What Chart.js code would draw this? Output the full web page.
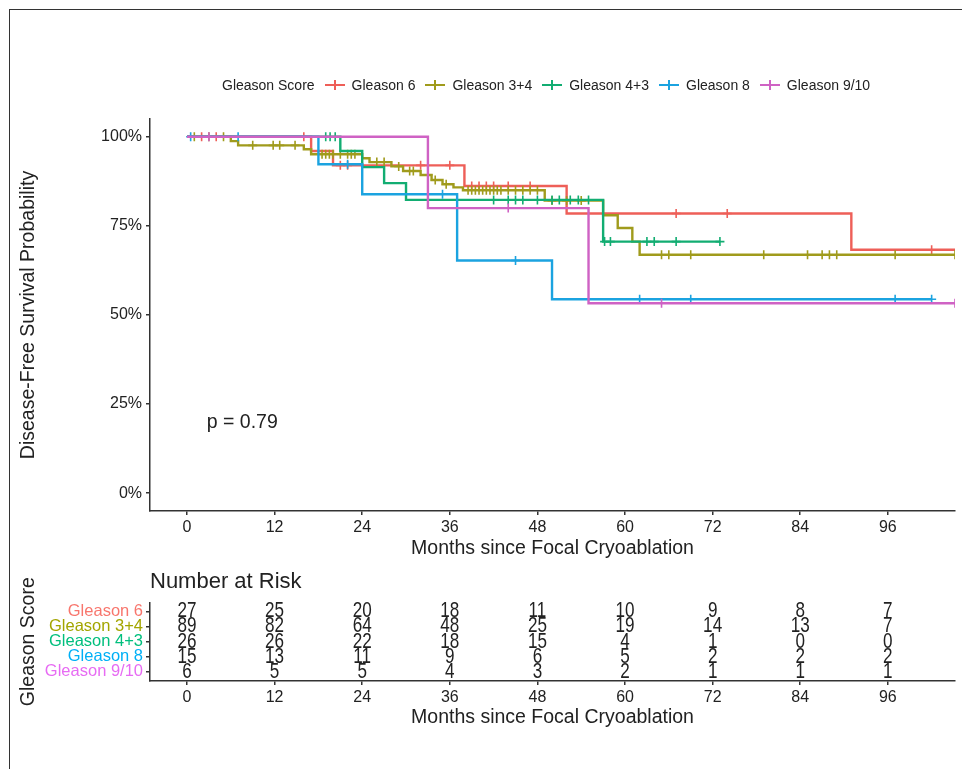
<!DOCTYPE html>
<html><head><meta charset="utf-8">
<script src="https://cdn.jsdelivr.net/npm/chart.js@4.4.1/dist/chart.umd.min.js"></script>
<style>
html,body{margin:0;padding:0;background:#fff;}
body{width:962px;height:769px;position:relative;overflow:hidden;font-family:"Liberation Sans",Arial,sans-serif;}
#frame{position:absolute;left:9px;top:9px;width:1000px;height:800px;border-left:1.5px solid #333;border-top:1.5px solid #333;}
#c1{position:absolute;left:0;top:0;}
#c2{position:absolute;left:0;top:565px;}
#legend{position:absolute;left:222px;top:75px;height:20px;display:flex;align-items:center;font-size:14px;color:#222;white-space:nowrap;}
.item{display:flex;align-items:center;margin-left:10px;}
.key{display:inline-block;position:relative;width:20px;height:12px;margin-right:7px;}
.key::before{content:"";position:absolute;left:0;right:0;top:5px;height:2px;background:var(--c);}
.key::after{content:"";position:absolute;left:9px;top:1px;width:2px;height:10px;background:var(--c);}
</style>
</head><body>
<div id="frame"></div>
<canvas id="c1" width="962" height="561"></canvas>
<canvas id="c2" width="962" height="170"></canvas>
<div id="legend"></div>
<script>
// ---------- data ----------
const groups = ['Gleason 6','Gleason 3+4','Gleason 4+3','Gleason 8','Gleason 9/10'];
const lineColors = ['#EE5F58','#A09B1C','#12AD72','#1BA3E0','#CF62C4'];
const labelColors = ['#F8766D','#A3A500','#00BF7D','#00B0F6','#E76BF3'];
const xTicks = [0,12,24,36,48,60,72,84,96];
const yTicks = [0,0.25,0.5,0.75,1];

// Kaplan-Meier steps: time of each step and survival after it
const g6Time  = [0,17,20,38,52,91,105.2];
const g6Surv  = [1,0.96,0.92,0.862,0.785,0.683,0.683];
const g6Cens  = [2,4,16,21,22,32,36,39,40,41,42,44,47,67,74,102];

const g34Time = [0,6,7,16,17,24,25,28,29.6,32,33.5,35,36.5,37.8,49,57,59,61,62,105.2];
const g34Surv = [1,0.988,0.976,0.965,0.951,0.94,0.929,0.917,0.904,0.893,0.879,0.867,0.858,0.85,0.821,0.78,0.744,0.706,0.669,0.669];
const g34Cens = [1,3,5,9,11.8,12.7,14.8,18.5,19,19.5,20,21,22,22.5,23,26,27,29,30.5,31,33,34,35.5,38.5,39,39.5,40,40.5,41,41.5,42,42.5,43,44,45,46,47,48,50,52,54,65,66,69,79,85,87,88,89,97,105.2];

const g43Time = [0,21,24,27,30,57,73];
const g43Surv = [1,0.96,0.915,0.87,0.823,0.706,0.706];
const g43Cens = [19,19.6,20.3,33,42,44,45,46,48,50,51,52.5,53.6,55,57.2,58,63,64,67,73];

const g8Time  = [0,18,24,37,50,102];
const g8Surv  = [1,0.923,0.839,0.653,0.544,0.544];
const g8Cens  = [0.5,7,22,35,45,62,69,97,102];

const g910Time = [0,33,55,105.2];
const g910Surv = [1,0.8,0.533,0.533];
const g910Cens = [3,44,65,105.2];

// number at risk
const riskTimes = [0,12,24,36,48,60,72,84,96];
const risk6   = [27,25,20,18,11,10,9,8,7];
const risk34  = [89,82,64,48,25,19,14,13,7];
const risk43  = [26,26,22,18,15,4,1,0,0];
const risk8   = [15,13,11,9,6,5,2,2,2];
const risk910 = [6,5,5,4,3,2,1,1,1];

const pValueText = 'p = 0.79';
const pValuePos = [2.7, 0.197];
// ---------- end data ----------

const curves = [
  [g6Time,g6Surv,g6Cens],[g34Time,g34Surv,g34Cens],[g43Time,g43Surv,g43Cens],
  [g8Time,g8Surv,g8Cens],[g910Time,g910Surv,g910Cens]];
const risks = [risk6,risk34,risk43,risk8,risk910];

function survAt(times, surv, t){ let v = surv[0]; for(let i=0;i<times.length;i++){ if(times[i] <= t) v = surv[i]; } return v; }

Chart.defaults.font.family = "'Liberation Sans', Arial, sans-serif";
Chart.defaults.color = '#222';

const XMIN = -5.07, XMAX = 105.2;
const axisColor = '#333';

// legend
const leg = document.getElementById('legend');
leg.innerHTML = '<span>Gleason Score</span>' + groups.map((g,i)=>
  `<span class="item"><span class="key" style="--c:${lineColors[i]}"></span><span>${g}</span></span>`).join('');

const datasets = [];
curves.forEach((c,i)=>{
  const [times,surv,cens] = c;
  datasets.push({type:'line', label:groups[i], data: times.map((t,k)=>({x:t,y:surv[k]})),
    stepped:'before', borderColor:lineColors[i], borderWidth:2.4, pointRadius:0, fill:false, order:10-i});
  datasets.push({type:'scatter', label:groups[i]+' censor', data: cens.map(t=>({x:t,y:survAt(times,surv,t)})),
    pointStyle:'cross', pointRadius:4.5, borderColor:lineColors[i], backgroundColor:lineColors[i], pointBorderWidth:1.6, borderWidth:1.6, showLine:false, order:10-i});
});

const pPlugin = {id:'pval', afterDatasetsDraw(chart){
  const {ctx, scales:{x,y}} = chart;
  ctx.save(); ctx.font = "19.5px 'Liberation Sans', Arial, sans-serif"; ctx.fillStyle='#222';
  ctx.textAlign='left'; ctx.textBaseline='middle';
  ctx.fillText(pValueText, x.getPixelForValue(pValuePos[0]), y.getPixelForValue(pValuePos[1]));
  ctx.restore();
}};

new Chart(document.getElementById('c1'), {
  data:{datasets},
  options:{responsive:false, animation:false, devicePixelRatio:1,
    layout:{padding:{top:119,right:7,left:0,bottom:0}},
    plugins:{legend:{display:false}, tooltip:{enabled:false}},
    scales:{
      x:{type:'linear', min:XMIN, max:XMAX,
        afterBuildTicks:s=>{s.ticks = xTicks.map(v=>({value:v}));},
        afterFit:s=>{s.height = 50;},
        ticks:{font:{size:16}, color:'#222', padding:3, maxRotation:0, autoSkip:false},
        grid:{drawOnChartArea:false, tickLength:4, color:axisColor, lineWidth:1.5},
        border:{color:axisColor, width:1.5},
        title:{display:true, text:'Months since Focal Cryoablation', font:{size:19.5}, color:'#222', padding:{top:0,bottom:1}}},
      y:{type:'linear', min:-0.05, max:1.05,
        afterBuildTicks:s=>{s.ticks = yTicks.map(v=>({value:v}));},
        afterFit:s=>{s.width = 150;},
        ticks:{font:{size:16}, color:'#222', padding:4, autoSkip:false, callback:v=>Math.round(v*100)+'%'},
        grid:{drawOnChartArea:false, tickLength:4, color:axisColor, lineWidth:1.5},
        border:{color:axisColor, width:1.5},
        title:{display:true, text:'Disease-Free Survival Probability', font:{size:19.5}, color:'#222', padding:{top:17,bottom:0}}}
    }},
  plugins:[pPlugin]
});

// risk table
const riskSets = risks.map((r,g)=>({type:'scatter', label:groups[g],
  data: riskTimes.map((t,i)=>({x:t, y:g+1, n:r[i]})), pointRadius:0}));

const riskPlugin = {id:'riskText', afterDatasetsDraw(chart){
  const ctx = chart.ctx;
  chart.data.datasets.forEach((ds,di)=>{
    const meta = chart.getDatasetMeta(di);
    meta.data.forEach((el,k)=>{
      ctx.save();
      ctx.translate(el.x, el.y);
      ctx.scale(0.95, 1.18);
      ctx.font = "18px 'Liberation Sans', Arial, sans-serif"; ctx.fillStyle='#222';
      ctx.textAlign='center'; ctx.textBaseline='middle';
      ctx.fillText(String(ds.data[k].n), 0, 0);
      ctx.restore();
    });
  });
}};

new Chart(document.getElementById('c2'), {
  data:{datasets:riskSets},
  options:{responsive:false, animation:false, devicePixelRatio:1,
    layout:{padding:{top:0,right:7,left:0,bottom:0}},
    plugins:{legend:{display:false}, tooltip:{enabled:false},
      title:{display:true, text:'Number at Risk', align:'start', fullSize:false, font:{size:22, weight:'normal'}, color:'#222', padding:{top:4,bottom:7}}},
    scales:{
      x:{type:'linear', min:XMIN, max:XMAX,
        afterBuildTicks:s=>{s.ticks = riskTimes.map(v=>({value:v}));},
        afterFit:s=>{s.height = 54;},
        ticks:{font:{size:16}, color:'#222', padding:3, maxRotation:0, autoSkip:false},
        grid:{drawOnChartArea:false, tickLength:4, color:axisColor, lineWidth:1.5},
        border:{color:axisColor, width:1.5},
        title:{display:true, text:'Months since Focal Cryoablation', font:{size:19.5}, color:'#222', padding:{top:0,bottom:6}}},
      y:{type:'linear', min:0.4, max:5.6, reverse:true,
        afterBuildTicks:s=>{s.ticks = [1,2,3,4,5].map(v=>({value:v}));},
        afterFit:s=>{s.width = 150;},
        ticks:{font:{size:16.5}, padding:3, autoSkip:false, color:c=>labelColors[c.index], callback:v=>groups[v-1]},
        grid:{drawOnChartArea:false, tickLength:4, color:axisColor, lineWidth:1.5},
        border:{color:axisColor, width:1.5},
        title:{display:true, text:'Gleason Score', font:{size:19.5}, color:'#222', padding:{top:17,bottom:0}}}
    }},
  plugins:[riskPlugin]
});
</script>
</body></html>
